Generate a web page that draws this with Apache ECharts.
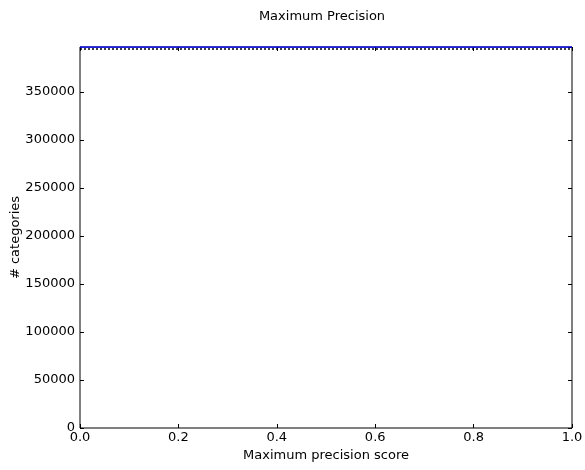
<!DOCTYPE html>
<html>
<head>
<meta charset="utf-8">
<script src="https://cdn.jsdelivr.net/npm/echarts@6/dist/echarts.min.js"></script>
<style>
  html, body { margin: 0; padding: 0; background: #fff; }
  #chart { width: 585px; height: 470px; }
</style>
</head>
<body>
<div id="chart"></div>
<script>
// Maximum precision score samples and the number of categories reaching each
const precisionScores = [0.0, 0.1, 0.2, 0.3, 0.4, 0.5, 0.6, 0.7, 0.8, 0.9, 1.0];
const categoryCounts = [396900, 396900, 396900, 396900, 396900, 396900, 396900, 396900, 396900, 396900, 396900];
const thresholdCounts = [394800, 394800, 394800, 394800, 394800, 394800, 394800, 394800, 394800, 394800, 394800];
const xTicks = [0.0, 0.2, 0.4, 0.6, 0.8, 1.0];
const yTicks = [0, 50000, 100000, 150000, 200000, 250000, 300000, 350000];

const font = 'DejaVu Sans';
const yMax = 396900;

const chart = echarts.init(document.getElementById('chart'), null, { renderer: 'canvas' });

const tickStyle = { show: true, inside: true, length: 4, lineStyle: { color: '#000', width: 1 } };
const hiddenLine = { show: false, onZero: false };

chart.setOption({
  animation: false,
  title: {
    text: 'Maximum Precision',
    left: 317, top: 5, textAlign: 'center',
    textStyle: { fontFamily: font, fontSize: 13, fontWeight: 'normal', color: '#000' }
  },
  grid: { left: 80, right: 13, top: 47, bottom: 42, show: true, borderColor: '#000', borderWidth: 1,
    backgroundColor: '#fff', containLabel: false, outerBoundsMode: 'none' },
  xAxis: [{
    type: 'value', min: 0, max: 1, interval: 0.2,
    name: 'Maximum precision score', nameLocation: 'middle', nameGap: 21,
    nameTextStyle: { fontFamily: font, fontSize: 13, color: '#000' },
    axisLine: hiddenLine,
    axisTick: tickStyle,
    splitLine: { show: false },
    axisLabel: { fontFamily: font, fontSize: 13, color: '#000', margin: 3,
      formatter: v => xTicks.some(t => Math.abs(t - v) < 1e-9) ? v.toFixed(1) : '' }
  }, {
    type: 'value', min: 0, max: 1, interval: 0.2, position: 'top',
    axisLine: hiddenLine, axisTick: tickStyle, axisLabel: { show: false }, splitLine: { show: false }
  }],
  yAxis: [{
    type: 'value', min: 0, max: yMax, interval: 50000,
    name: '# categories', nameLocation: 'middle', nameGap: 58, nameMoveOverlap: false,
    nameTextStyle: { fontFamily: font, fontSize: 13, color: '#000' },
    axisLine: hiddenLine,
    axisTick: tickStyle,
    splitLine: { show: false },
    axisLabel: { fontFamily: font, fontSize: 13, color: '#000', margin: 5, showMaxLabel: false,
      formatter: v => yTicks.includes(v) ? String(v) : '' }
  }, {
    type: 'value', min: 0, max: yMax, interval: 50000, position: 'right',
    axisLine: hiddenLine, axisTick: tickStyle, axisLabel: { show: false }, splitLine: { show: false }
  }],
  series: [{
    type: 'line', data: precisionScores.map((x, i) => [x, thresholdCounts[i]]),
    showSymbol: false, lineStyle: { color: '#000', width: 1.5, type: [2, 2] }, z: 3
  }, {
    type: 'line', data: precisionScores.map((x, i) => [x, categoryCounts[i]]),
    showSymbol: false, lineStyle: { color: '#0000ff', width: 1.5 }, z: 4
  }]
});
</script>
</body>
</html>
